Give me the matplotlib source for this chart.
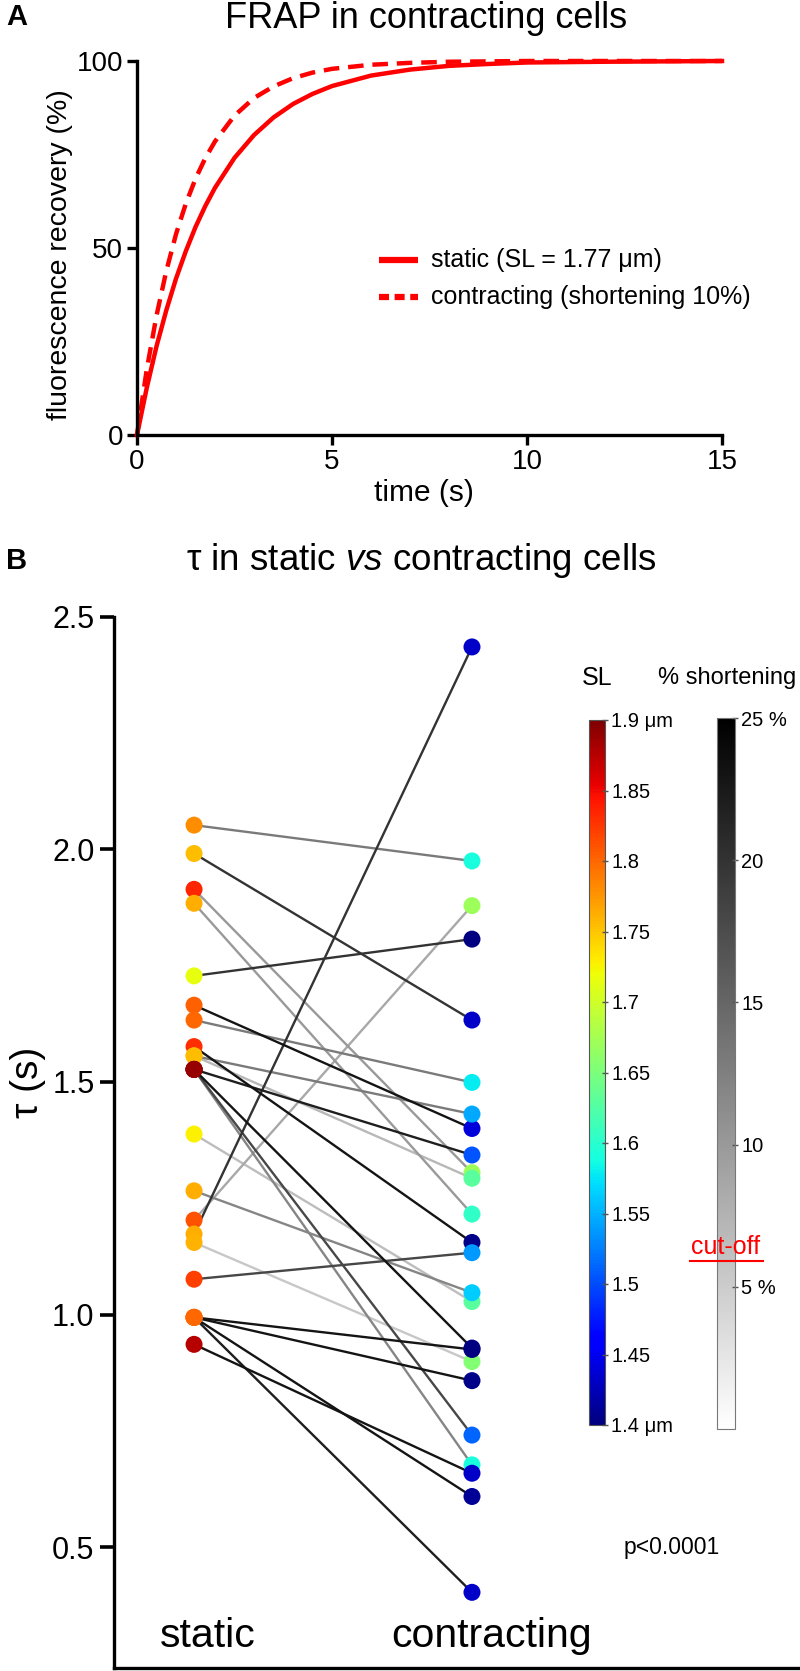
import matplotlib.pyplot as plt
import matplotlib as mpl
from matplotlib.lines import Line2D

plt.rcParams['font.family'] = ['Liberation Sans', 'DejaVu Sans']
plt.rcParams['mathtext.fontset'] = 'custom'
plt.rcParams['mathtext.rm'] = 'Liberation Sans'
plt.rcParams['mathtext.it'] = 'Liberation Sans:italic'

# ---- panel A: FRAP recovery curves
time_s = [0, 0.25, 0.5, 0.75, 1, 1.25, 1.5, 1.75, 2, 2.5, 3, 3.5, 4, 4.5, 5,
          6, 7, 8, 9, 10, 12, 15]
static_recovery = [0, 12.6, 23.7, 33.3, 41.8, 49.1, 55.6, 61.2, 66.1, 74.1,
                   80.2, 84.9, 88.5, 91.2, 93.3, 96.1, 97.7, 98.7, 99.2, 99.6,
                   99.8, 100]
contracting_recovery = [0, 17.5, 31.9, 43.8, 53.7, 61.8, 68.5, 74.0, 78.5,
                        85.4, 90.1, 93.2, 95.4, 96.9, 97.9, 99.0, 99.5, 99.8,
                        99.9, 100, 100, 100]
legend_labels = ['static (SL = 1.77 μm)', 'contracting (shortening 10%)']

# ---- panel B: one entry per cell
static_tau = [2.052, 1.991, 1.914, 1.884, 1.728, 1.665, 1.633, 1.576, 1.556,
              1.556, 1.527, 1.527, 1.527, 1.527, 1.388, 1.266, 1.203, 1.173,
              1.155, 1.076, 0.994, 0.994, 0.994, 0.994, 0.936]
contracting_tau = [1.975, 1.633, 1.305, 1.216, 1.807, 1.400, 1.499, 1.155,
                   1.431, 1.293, 1.343, 0.928, 0.741, 0.677, 1.028, 1.047,
                   1.879, 2.435, 0.899, 1.133, 0.925, 0.858, 0.609, 0.403,
                   0.659]
static_sl = [1.779, 1.754, 1.835, 1.763, 1.715, 1.804, 1.800, 1.830, 1.754,
             1.754, 1.889, 1.889, 1.889, 1.889, 1.728, 1.763, 1.812, 1.763,
             1.760, 1.821, 1.800, 1.800, 1.800, 1.800, 1.875]
contracting_sl = [1.590, 1.433, 1.670, 1.604, 1.400, 1.440, 1.578, 1.405,
                  1.546, 1.629, 1.504, 1.405, 1.513, 1.590, 1.629, 1.563,
                  1.670, 1.433, 1.654, 1.538, 1.400, 1.405, 1.411, 1.433,
                  1.433]
shortening = [13, 20, 10, 10, 20, 23, 13, 23, 13, 7, 22, 23, 18, 12, 6.5, 12,
              8.5, 20, 5.5, 18, 23, 23, 23, 22, 23]

sl_ticks = [1.4, 1.45, 1.5, 1.55, 1.6, 1.65, 1.7, 1.75, 1.8, 1.85, 1.9]
sl_ticklabels = ['1.4 μm', '1.45', '1.5', '1.55', '1.6', '1.65', '1.7',
                 '1.75', '1.8', '1.85', '1.9 μm']
short_ticks = [5, 10, 15, 20, 25]
short_ticklabels = ['5 %', '10', '15', '20', '25 %']

W, H = 800, 1671


def fx(x):
    return x / W


def fy(y):
    return 1 - y / H


fig = plt.figure(figsize=(8, 16.71), dpi=100)

# ================= Panel A
axA = fig.add_axes([fx(137), fy(435), fx(722) - fx(137), fy(61) - fy(435)])
axA.plot(time_s, contracting_recovery, color='#ff0000', lw=3.2,
         ls=(0, (3.5, 2)), clip_on=False)
axA.plot(time_s, static_recovery, color='#ff0000', lw=3.2, clip_on=False)
axA.set_xlim(0, 15)
axA.set_ylim(0, 100)
axA.set_xticks([0, 5, 10, 15])
axA.set_yticks([0, 50, 100])
for s in ['top', 'right']:
    axA.spines[s].set_visible(False)
for s in ['left', 'bottom']:
    axA.spines[s].set_linewidth(2.4)
axA.tick_params(length=7, width=2.4, labelsize=20, pad=3)

# legend drawn by hand (rows at the heights)
axA.plot([6.2, 7.2], [46.8, 46.8], color='#ff0000', lw=4.5,
         solid_capstyle='butt')
axA.plot([6.2, 7.2], [37.0, 37.0], color='#ff0000', lw=4.5,
         ls=(0, (1.6, 0.9)))
axA.text(7.55, 46.8, legend_labels[0], fontsize=18, va='center', ha='left')
axA.text(7.55, 37.0, legend_labels[1], fontsize=18, va='center', ha='left')

fig.text(fx(426), fy(18), 'FRAP in contracting cells', fontsize=26,
         ha='center', va='center')
fig.text(fx(60), fy(255), 'fluorescence recovery (%)', fontsize=20.5,
         rotation=90, ha='center', va='center')
fig.text(fx(424), fy(493), 'time (s)', fontsize=21.5, ha='center',
         va='center')
fig.text(fx(6), fy(17), 'A', fontsize=21, fontweight='bold',
         ha='left', va='center')

# ================= Panel B
axB = fig.add_axes([fx(114), fy(1667.7), fx(798) - fx(114),
                    fy(616.7) - fy(1667.7)])
short_norm = mpl.colors.Normalize(vmin=0, vmax=25)
short_cmap = plt.get_cmap('gray_r')
sl_norm = mpl.colors.Normalize(vmin=1.4, vmax=1.9)
sl_cmap = plt.get_cmap('jet')

for st, ct, sh in zip(static_tau, contracting_tau, shortening):
    axB.plot([0, 1], [st, ct], color=short_cmap(short_norm(sh)), lw=1.7,
             zorder=2 + sh / 100)

axB.scatter([0] * len(static_tau), static_tau, c=static_sl, cmap=sl_cmap,
            norm=sl_norm, s=150, linewidths=0, zorder=5)
axB.scatter([1] * len(contracting_tau), contracting_tau, c=contracting_sl,
            cmap=sl_cmap, norm=sl_norm, s=150, linewidths=0, zorder=5)

axB.set_xlim(-0.288, 2.173)
axB.set_ylim(0.241, 2.5)
axB.set_yticks([0.5, 1.0, 1.5, 2.0, 2.5])
axB.set_yticklabels(['0.5', '1.0', '1.5', '2.0', '2.5'])
axB.set_xticks([])
for s in ['top', 'right']:
    axB.spines[s].set_visible(False)
for s in ['left', 'bottom']:
    axB.spines[s].set_linewidth(2.4)
axB.tick_params(axis='y', length=10, width=2.6, labelsize=22, pad=4)

axB.text(0.049, 0.286, 'static', fontsize=29.5, ha='center', va='baseline')
axB.text(1.072, 0.286, 'contracting', fontsize=29.5, ha='center',
         va='baseline')
axB.text(1.72, 0.5, 'p<0.0001', fontsize=16.5, ha='center', va='center')

fig.text(fx(28), fy(1082), 'τ (s)', fontsize=28, rotation=90,
         ha='center', va='center')
fig.text(fx(421), fy(561), r'τ in static $\it{vs}$ contracting cells',
         fontsize=26.5, ha='center', va='center')
fig.text(fx(6), fy(561), 'B', fontsize=21, fontweight='bold',
         ha='left', va='center')

# ================= colour bars
cax_sl = fig.add_axes([fx(589), fy(1425), fx(605) - fx(589),
                       fy(720) - fy(1425)])
cb_sl = fig.colorbar(mpl.cm.ScalarMappable(norm=sl_norm, cmap=sl_cmap),
                     cax=cax_sl)
cb_sl.set_ticks(sl_ticks)
cb_sl.set_ticklabels(sl_ticklabels)
cb_sl.outline.set_linewidth(0.8)
cb_sl.outline.set_edgecolor('#555555')
cax_sl.tick_params(length=5, width=1, color='#555555', direction='inout',
                   labelsize=14.5, pad=2)

cax_sh = fig.add_axes([fx(717), fy(1429), fx(735) - fx(717),
                       fy(718) - fy(1429)])
cb_sh = fig.colorbar(mpl.cm.ScalarMappable(norm=short_norm, cmap=short_cmap),
                     cax=cax_sh)
cb_sh.set_ticks(short_ticks)
cb_sh.set_ticklabels(short_ticklabels)
cb_sh.outline.set_linewidth(0.8)
cb_sh.outline.set_edgecolor('#777777')
cax_sh.tick_params(length=5, width=1, color='#555555', direction='inout',
                   labelsize=14.5, pad=2)

fig.text(fx(597), fy(678), 'SL', fontsize=18, ha='center', va='center')
fig.text(fx(727), fy(678), '% shortening', fontsize=17, ha='center',
         va='center')
fig.text(fx(726), fy(1247), 'cut-off', fontsize=18, color='#ff0000',
         ha='center', va='center', zorder=10)
fig.add_artist(Line2D([fx(690), fx(763)], [fy(1261), fy(1261)],
                      color='#ff0000', lw=1.5, transform=fig.transFigure,
                      zorder=10))

fig.savefig('out.png', dpi=100)
